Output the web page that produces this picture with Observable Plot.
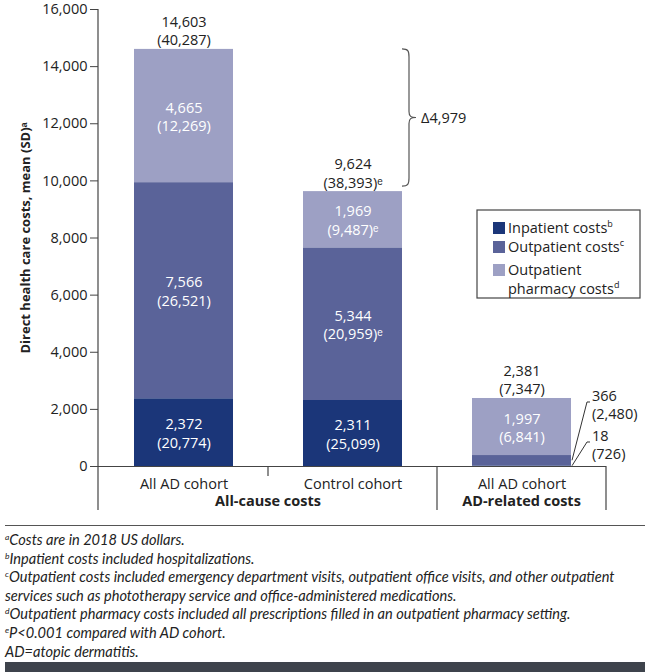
<!DOCTYPE html>
<html><head><meta charset="utf-8">
<script src="https://cdn.jsdelivr.net/npm/d3@7"></script>
<script src="https://cdn.jsdelivr.net/npm/@observablehq/plot@0.6"></script>
<style>
body{margin:0;background:#fff;font-family:"Open Sans",sans-serif;color:#222}
#wrap{position:relative;width:651px;height:672px;overflow:hidden;background:#fff}
#chart{position:absolute;left:0;top:0}
#notes{position:absolute;left:5px;top:525px;width:640px;border-top:1.3px solid #555;padding-top:5px;font-family:Lato,sans-serif;font-style:italic;font-size:14.6px;line-height:18.6px;color:#222}
#notes div{white-space:nowrap}
#notes sup{font-size:8.5px;vertical-align:5px;line-height:0}
#bottombar{position:absolute;left:5px;top:662px;width:640px;height:10px;background:#3e434c}
</style>
</head><body>
<div id="wrap">
<div id="chart"></div>
<div id="notes"></div>
<div id="bottombar"></div>
</div>
<script>
// ---- data ----
const cohortKeys = ["adAll", "control", "adRelated"];
const cohortLabels = ["All AD cohort", "Control cohort", "All AD cohort"];
const groupLabels = ["All-cause costs", "AD-related costs"];
const groupMembers = [["adAll", "control"], ["adRelated"]];
const components = ["Inpatient costs", "Outpatient costs", "Outpatient pharmacy costs"];
const componentNotes = ["b", "c", "d"];
const inpatientMean = [2372, 2311, 18];
const inpatientSD = [20774, 25099, 726];
const inpatientSig = [false, false, false];
const outpatientMean = [7566, 5344, 366];
const outpatientSD = [26521, 20959, 2480];
const outpatientSig = [false, true, false];
const pharmacyMean = [4665, 1969, 1997];
const pharmacySD = [12269, 9487, 6841];
const pharmacySig = [false, true, false];
const totalMean = [14603, 9624, 2381];
const totalSD = [40287, 38393, 7347];
const totalSig = [false, true, false];
const calloutCohort = "adRelated";
const calloutComponents = ["Outpatient costs", "Inpatient costs"];
const yTicks = [0, 2000, 4000, 6000, 8000, 10000, 12000, 14000, 16000];
const yLabel = "Direct health care costs, mean (SD)ᵃ";
const colors = ["#1b3679", "#5a6399", "#9da0c4"];
const footnotes = [
  ["a", "Costs are in 2018 US dollars."],
  ["b", "Inpatient costs included hospitalizations."],
  ["c", "Outpatient costs included emergency department visits, outpatient office visits, and other outpatient"],
  ["", "services such as phototherapy service and office-administered medications."],
  ["d", "Outpatient pharmacy costs included all prescriptions filled in an outpatient pharmacy setting."],
  ["e", "P<0.001 compared with AD cohort."],
  ["", "AD=atopic dermatitis."]
];

// ---- tables ----
const fmt = d3.format(",");
const series = [[inpatientMean, inpatientSD, inpatientSig], [outpatientMean, outpatientSD, outpatientSig], [pharmacyMean, pharmacySD, pharmacySig]];
const rows = [];
cohortKeys.forEach((k, i) => series.forEach(([m, s, g], j) => rows.push({cohort: k, component: components[j], mean: m[i], sd: s[i], sig: g[i]})));
const totals = cohortKeys.map((k, i) => ({cohort: k, mean: totalMean[i], sd: totalSD[i], sig: totalSig[i]}));
const label = d => `${fmt(d.mean)}\n(${fmt(d.sd)})${d.sig ? "ᵉ" : ""}`;
const isCallout = d => d.cohort === calloutCohort && calloutComponents.includes(d.component);
const FS = 14.5;

function svgEl(tag, attrs, parent) {
  const e = document.createElementNS("http://www.w3.org/2000/svg", tag);
  for (const k in attrs) e.setAttribute(k, attrs[k]);
  if (parent) parent.appendChild(e);
  return e;
}
function addText(g, x, y, str, extra = {}) {
  const t = svgEl("text", Object.assign({x, y, "font-size": FS, fill: "#222", "text-anchor": "start"}, extra), g);
  t.textContent = str;
  return t;
}

// decorations drawn with the plot's scales
function decorations(index, scales, values, dims) {
  const x = scales.x, y = scales.y;
  const bw = x.bandwidth();
  const {marginLeft, height, width, marginRight} = dims;
  const x0 = marginLeft, x1 = width - marginRight;
  const base = y(0), bottom = height - 10;
  const g = svgEl("g", {});
  const line = (ax, ay, bx, by) => svgEl("line", {x1: ax, y1: ay, x2: bx, y2: by, stroke: "#444", "stroke-width": 1.2}, g);
  // y axis line (extends below for the grouping box)
  line(x0, y(yTicks[yTicks.length - 1]), x0, bottom);
  // dividers
  const step = x(cohortKeys[1]) - x(cohortKeys[0]);
  const midAB = x(cohortKeys[0]) + bw + (step - bw) / 2;
  const midBC = x(cohortKeys[1]) + bw + (step - bw) / 2;
  line(midAB, base, midAB, base + 10);
  line(midBC, base, midBC, bottom);
  line(x1, base, x1, bottom);
  // group labels
  groupMembers.forEach((mem, i) => {
    const a = x(mem[0]), b = x(mem[mem.length - 1]) + bw;
    addText(g, (a + b) / 2, base + 40, groupLabels[i], {"text-anchor": "middle", "font-weight": "bold"});
  });
  // bracket between totals
  const bx = x(cohortKeys[1]) + bw;
  const yT = y(totalMean[0]), yB = y(totalMean[1]) - 5, yM = (yT + yB) / 2;
  svgEl("path", {
    d: `M${bx},${yT} C${bx + 6},${yT} ${bx + 7},${yT + 2} ${bx + 7},${yT + 8} L${bx + 7},${yM - 6} C${bx + 7},${yM - 1} ${bx + 9},${yM} ${bx + 14},${yM} M${bx + 14},${yM} C${bx + 9},${yM} ${bx + 7},${yM + 1} ${bx + 7},${yM + 6} L${bx + 7},${yB - 8} C${bx + 7},${yB - 2} ${bx + 6},${yB} ${bx},${yB}`,
    fill: "none", stroke: "#555", "stroke-width": 1.2
  }, g);
  addText(g, bx + 19, yM + 5, "Δ" + fmt(totalMean[0] - totalMean[1]));
  // callouts for thin segments
  const ci = cohortKeys.indexOf(calloutCohort);
  const xr = x(calloutCohort) + bw;
  calloutComponents.forEach((comp, k) => {
    const j = components.indexOf(comp);
    let lo = 0;
    for (let m = 0; m < j; m++) lo += series[m][0][ci];
    const v = series[j][0][ci];
    const yStart = y(lo + v / 2);
    const yEnd = y(totalMean[ci]) + 3 + k * 40;
    svgEl("polyline", {points: `${xr + 1},${yStart} ${xr + 16},${yEnd + 1} ${xr + 19},${yEnd + 1}`, fill: "none", stroke: "#333", "stroke-width": 1}, g);
    const t = svgEl("text", {x: xr + 21, y: yEnd, "font-size": FS, fill: "#222", "text-anchor": "start"}, g);
    const s1 = svgEl("tspan", {x: xr + 21, dy: 0}, t); s1.textContent = fmt(v);
    const s2 = svgEl("tspan", {x: xr + 21, dy: 18.4}, t); s2.textContent = `(${fmt(series[j][1][ci])})`;
  });
  // legend
  const lx = 477, ly = 210;
  svgEl("rect", {x: lx, y: ly, width: 163, height: 88, fill: "#fff", stroke: "#444", "stroke-width": 1.2}, g);
  const rowsY = [ly + 18, ly + 37, ly + 60];
  components.forEach((c, i) => {
    svgEl("rect", {x: lx + 16, y: rowsY[i] - 6, width: 12, height: 12, fill: scales.color(c)}, g);
    const words = i === 2 ? ["Outpatient", "pharmacy costs"] : [c];
    const t = svgEl("text", {x: lx + 31, y: rowsY[i] + 5, "font-size": FS, fill: "#222", "text-anchor": "start"}, g);
    words.forEach((w, k) => {
      const s = svgEl("tspan", {x: lx + 31, dy: k ? 19 : 0}, t);
      s.textContent = w;
      if (k === words.length - 1) {
        const sup = svgEl("tspan", {"font-size": 9, dy: -6}, t);
        sup.textContent = componentNotes[i];
      }
    });
  });
  return g;
}

const plot = Plot.plot({
  width: 651,
  height: 520,
  marginLeft: 98,
  marginRight: 45,
  marginTop: 9,
  marginBottom: 54,
  style: {fontSize: FS + "px", fontFamily: "'Open Sans', sans-serif", color: "#222", background: "#fff"},
  x: {domain: cohortKeys, paddingInner: 0.415, paddingOuter: 0.2075, label: null},
  y: {domain: [0, yTicks[yTicks.length - 1]], label: null},
  color: {domain: components, range: colors},
  marks: [
    Plot.barY(rows, {x: "cohort", y: "mean", fill: "component"}),
    Plot.text(rows, Plot.stackY({x: "cohort", y: "mean", text: d => isCallout(d) ? "" : label(d), fill: "white", fontSize: FS, lineHeight: 1.27})),
    Plot.text(totals, {x: "cohort", y: "mean", text: label, lineAnchor: "bottom", dy: -4, fill: "#222", fontSize: FS, lineHeight: 1.27}),
    Plot.ruleY([0], {stroke: "#444", strokeWidth: 1.2}),
    Plot.axisY({ticks: yTicks, tickFormat: d3.format(","), tickSize: 8, tickPadding: 3, fontSize: FS, label: null, stroke: "#444"}),
    Plot.axisX({tickSize: 0, tickPadding: 12, tickFormat: k => cohortLabels[cohortKeys.indexOf(k)], fontSize: FS, label: null}),
    Plot.text([yLabel], {frameAnchor: "left", textAnchor: "middle", rotate: -90, dx: -73, fontWeight: "bold", fontSize: 13, fill: "#222"}),
    decorations
  ]
});
document.getElementById("chart").appendChild(plot);

const notes = document.getElementById("notes");
footnotes.forEach(([s, t]) => {
  const div = document.createElement("div");
  if (s) { const sup = document.createElement("sup"); sup.textContent = s; div.appendChild(sup); }
  div.appendChild(document.createTextNode(t));
  notes.appendChild(div);
});
</script>
</body></html>
